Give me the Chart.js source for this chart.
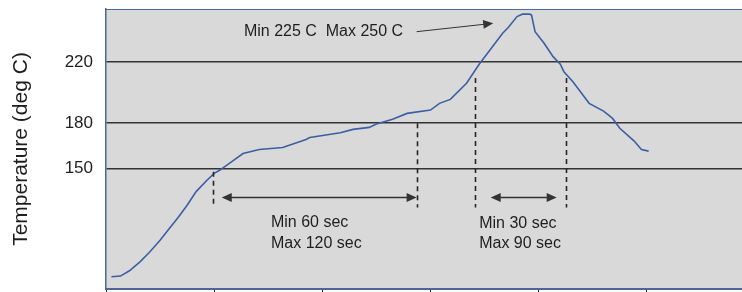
<!DOCTYPE html>
<html>
<head>
<meta charset="utf-8">
<script src="https://cdn.jsdelivr.net/npm/chart.js@4.4.1/dist/chart.umd.min.js"></script>
<style>
  html, body { margin: 0; padding: 0; background: #ffffff; overflow: hidden; }
  #wrap { position: relative; width: 756px; height: 292px; }
</style>
</head>
<body>
<div id="wrap"><canvas id="profileChart"></canvas></div>
<script>
// reflow profile
const timeSec = [3, 8, 13, 19, 24, 30, 36, 40, 45, 50, 56, 60, 63, 69, 76, 85, 98, 111, 113, 130,
  137, 146, 150, 159, 167, 180, 185, 191, 200, 207, 213, 220, 223, 228, 231, 235, 236, 238, 243, 248,
  252, 254, 259, 268, 276, 281, 285, 293, 297, 301];
const tempC = [79, 79.5, 83, 89, 95, 103, 112, 118, 126, 135, 142.5, 147, 149, 154, 160, 162.7, 164, 169.3, 170.6, 173.7,
  175.9, 177.2, 179.4, 182.5, 186.4, 188.6, 193, 195.6, 206.2, 218.7, 228.1, 239.1, 242.7, 250, 251.6, 251.6, 251.1, 240.1, 232.5, 223.7,
  218.7, 213.8, 207.2, 193, 187.9, 183.1, 176.6, 168.2, 162.7, 161.6];
const tempTicks = [150, 180, 220];
const timeTicks = [0, 60, 120, 180, 240, 300, 360];

// notes drawn on top (time, temp)
const markerTimes = [59.5, 172.3, 204.7, 255.1];
const markerTop = [148, 180, 209.6, 209.6];
const markerBottom = 124.5;
const spans = [[64.2, 172.3], [213.4, 250]];
const spanTemp = 131.6;
const peakArrow = [[172.3, 240.1], [214.8, 245.6]];
const notes = [
  { text: "Min 225 C  Max 250 C", t: 76.5, temp: 240.1 },
  { text: "Min 60 sec", t: 91.5, temp: 114.4 },
  { text: "Max 120 sec", t: 91.5, temp: 100.9 },
  { text: "Min 30 sec", t: 207, temp: 114.2 },
  { text: "Max 90 sec", t: 207, temp: 100.9 },
];

const FONT = "'Liberation Sans', Arial, sans-serif";

function arrowHead(ctx, x1, y1, x2, y2) {
  const a = Math.atan2(y2 - y1, x2 - x1);
  const len = 10, half = 4.5;
  ctx.beginPath();
  ctx.moveTo(x2, y2);
  ctx.lineTo(x2 - len * Math.cos(a) + half * Math.sin(a), y2 - len * Math.sin(a) - half * Math.cos(a));
  ctx.lineTo(x2 - len * Math.cos(a) - half * Math.sin(a), y2 - len * Math.sin(a) + half * Math.cos(a));
  ctx.closePath();
  ctx.fill();
}

const plotBackground = {
  id: "plotBackground",
  beforeDraw(chart) {
    const { ctx, chartArea: a } = chart;
    ctx.save();
    ctx.fillStyle = "#d9d9d9";
    ctx.fillRect(a.left, a.top, a.right - a.left, a.bottom - a.top);
    ctx.strokeStyle = "#4a6aa8";
    ctx.lineWidth = 1.2;
    ctx.beginPath();
    ctx.moveTo(a.left, a.top + 0.5);
    ctx.lineTo(a.right, a.top + 0.5);
    ctx.stroke();
    ctx.restore();
  },
};

const notesPlugin = {
  id: "notesPlugin",
  afterDatasetsDraw(chart) {
    const { ctx, scales: { x, y } } = chart;
    ctx.save();
    ctx.strokeStyle = "#262626";
    ctx.fillStyle = "#262626";
    ctx.lineWidth = 1.6;

    ctx.setLineDash([5, 4]);
    markerTimes.forEach((t, i) => {
      const px = Math.round(x.getPixelForValue(t)) + 0.5;
      ctx.beginPath();
      ctx.moveTo(px, y.getPixelForValue(markerTop[i]));
      ctx.lineTo(px, y.getPixelForValue(markerBottom));
      ctx.stroke();
    });
    ctx.setLineDash([]);

    ctx.fillStyle = "#333333";
    ctx.strokeStyle = "#333333";
    spans.forEach(([t1, t2]) => {
      const x1 = x.getPixelForValue(t1), x2 = x.getPixelForValue(t2);
      const py = Math.round(y.getPixelForValue(spanTemp)) + 0.5;
      ctx.beginPath();
      ctx.moveTo(x1 + 8, py);
      ctx.lineTo(x2 - 8, py);
      ctx.stroke();
      arrowHead(ctx, x2, py, x1, py);
      arrowHead(ctx, x1, py, x2, py);
    });

    const ax1 = x.getPixelForValue(peakArrow[0][0]), ay1 = y.getPixelForValue(peakArrow[0][1]);
    const ax2 = x.getPixelForValue(peakArrow[1][0]), ay2 = y.getPixelForValue(peakArrow[1][1]);
    ctx.lineWidth = 1;
    ctx.beginPath();
    ctx.moveTo(ax1, ay1);
    ctx.lineTo(ax2 - 8, ay2 + (ay1 - ay2) * 8 / (ax2 - ax1));
    ctx.stroke();
    arrowHead(ctx, ax1, ay1, ax2, ay2);

    ctx.fillStyle = "#1e1e1e";
    ctx.font = "16px " + FONT;
    ctx.textBaseline = "middle";
    ctx.textAlign = "left";
    notes.forEach((n) => {
      ctx.fillText(n.text, x.getPixelForValue(n.t), y.getPixelForValue(n.temp));
    });
    ctx.restore();
  },
};

const ctx = document.getElementById("profileChart").getContext("2d");

const profileChart = new Chart(ctx, {
  type: "line",
  data: {
    datasets: [
      {
        label: "Temperature",
        data: timeSec.map((t, i) => ({ x: t, y: tempC[i] })),
        borderColor: "#3c5fa3",
        borderWidth: 1.6,
        pointRadius: 0,
        tension: 0,
        fill: false,
      },
    ],
  },
  options: {
    responsive: true,
    maintainAspectRatio: false,
    animation: false,
    layout: { padding: { top: 9, right: 1, left: 0, bottom: 0 } },
    plugins: { legend: { display: false }, tooltip: { enabled: false } },
    scales: {
      x: {
        type: "linear",
        min: 0,
        max: 360,
        afterBuildTicks: (s) => { s.ticks = timeTicks.map((v) => ({ value: v })); },
        afterFit: (s) => {
          s.height = 3;
          s.paddingLeft = 0;
          s.paddingRight = 0;
        },
        ticks: { display: false },
        grid: { drawOnChartArea: false, drawTicks: true, tickLength: 4, color: "#222222", lineWidth: 1 },
        border: { color: "#4d6696", width: 2 },
      },
      y: {
        type: "linear",
        min: 71,
        max: 255,
        afterBuildTicks: (s) => { s.ticks = tempTicks.map((v) => ({ value: v })); },
        afterFit: (s) => {
          s.width = 106;
          s.paddingTop = 0;
          s.paddingBottom = 0;
        },
        ticks: { color: "#1e1e1e", font: { family: FONT, size: 17 }, padding: 13 },
        grid: { drawTicks: false, color: "#333333", lineWidth: 1.6 },
        border: { color: "#4d6696", width: 1.5 },
        title: {
          display: true,
          text: "Temperature (deg C)",
          color: "#1e1e1e",
          font: { family: FONT, size: 21 },
          padding: { top: 9, bottom: 0 },
        },
      },
    },
  },
  plugins: [plotBackground, notesPlugin],
});
</script>
</body>
</html>
